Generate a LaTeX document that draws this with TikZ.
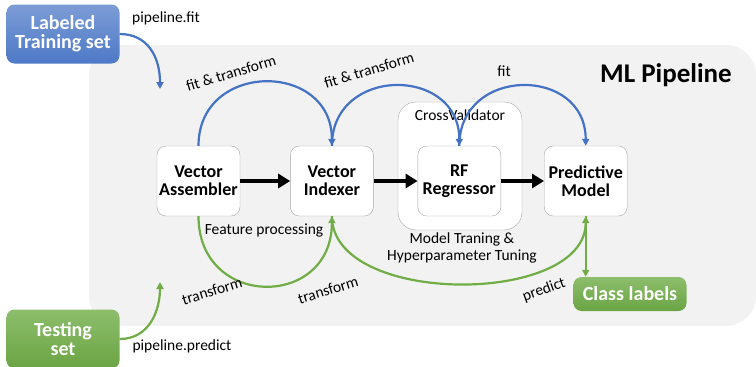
\documentclass[tikz,border=0pt]{standalone}
\usepackage{fontspec}
\setmainfont{Carlito}
\usetikzlibrary{positioning,arrows.meta}

\definecolor{pipegray}{HTML}{F2F2F2}
\definecolor{boxline}{HTML}{A6A6A6}
\definecolor{fitblue}{HTML}{4472C4}
\definecolor{predgreen}{HTML}{70AD47}

\begin{document}
\begin{tikzpicture}[x=1pt,y=-1pt,
    stage/.style={draw=boxline,fill=white,rounded corners=9pt,inner sep=0pt,
      minimum width=83pt,minimum height=70pt,align=center,
      font=\fontsize{18}{18}\selectfont\bfseries},
    lbl/.style={font=\fontsize{15.5}{17}\selectfont,inner sep=1pt},
    bluedata/.style={rounded corners=8pt,top color=fitblue!70!white,bottom color=fitblue!95!white,
      text=white,align=center,font=\fontsize{20}{19}\selectfont\bfseries},
    greendata/.style={rounded corners=8pt,top color=predgreen!80!white,bottom color=predgreen!95!black,
      text=white,align=center,font=\fontsize{20}{19}\selectfont\bfseries},
    fitarrow/.style={draw=fitblue,line width=2.2pt,-{Triangle[length=7pt,width=7pt]}},
    predarrow/.style={draw=predgreen,line width=2.2pt,-{Triangle[length=7pt,width=7pt]}},
    flow/.style={line width=4.5pt,-{Triangle[length=12pt,width=14pt]}}]
  \useasboundingbox (0,0) rectangle (756,367);

  % pipeline area
  \fill[pipegray,rounded corners=30pt] (89,45) rectangle (756,326);
  \node[font=\fontsize{27}{27}\selectfont\bfseries] (title) at (666,75) {ML Pipeline};

  \node[draw=boxline,fill=white,rounded corners=18pt,minimum width=124pt,minimum height=128pt] (cv) at (460,166) {};
  \node[lbl] (cvlbl) at (460,115) {CrossValidator};

  \node[stage] (asm) at (198.5,181) {Vector\\Assembler};
  \node[stage,right=50pt of asm] (idx) {Vector\\Indexer};
  \node[stage,right=44pt of idx] (rf) {RF\\Regressor};
  \node[stage,right=43pt of rf] (pm) {Predictive\\Model};

  \node[bluedata,minimum width=113pt,minimum height=59pt] (train) at (63,34) {Labeled\\Training set};
  \node[greendata,minimum width=113pt,minimum height=59pt] (test) at (63,339) {Testing\\set};
  \node[greendata,minimum width=113pt,minimum height=34pt] (cls) at (630,294) {Class labels};

  \coordinate (fitin) at (160,89);
  \coordinate (predin) at (160,282);

  \draw[flow] (asm) -- (idx);
  \draw[flow] (idx) -- (rf);
  \draw[flow] (rf) -- (pm);

  % fit path
  \draw[fitarrow] (train.east) .. controls +(28,0) and +(0,-32) .. (fitin);
  \draw[fitarrow] (asm.north) .. controls +(0,-85) and +(0,-85) .. (idx.north);
  \draw[fitarrow] (idx.north) .. controls +(0,-80) and +(0,-80) .. (rf.north);
  \draw[fitarrow] (rf.north) .. controls +(0,-80) and +(0,-80) .. (pm.north);

  % predict path
  \draw[predarrow] (test.east) .. controls +(30,0) and +(0,28) .. (predin);
  \draw[predarrow] (asm.south) .. controls +(0,93) and +(0,93) .. (idx.south);
  \draw[predarrow] (idx.south) .. controls +(0,90) and +(0,90) .. (pm.south);
  \draw[predarrow] (pm.south) -- (cls.north -| pm.south);

  \node[lbl] (fitlbl) at (166,18) {pipeline.fit};
  \node[lbl] (predlbl) at (182,346) {pipeline.predict};
  \node[lbl,rotate=17] (ftA) at (231,73) {fit \& transform};
  \node[lbl,rotate=17] (ftB) at (369,70) {fit \& transform};
  \node[lbl] (ftC) at (504,71) {fit};
  \node[lbl] (feat) at (264,230) {Feature processing};
  \node[lbl,align=center] (tune) at (462,248) {Model Traning \&\\Hyperparameter Tuning};
  \node[lbl,rotate=17] (trA) at (212,291) {transform};
  \node[lbl,rotate=17] (trB) at (328,290) {transform};
  \node[lbl,rotate=20] (prd) at (544,290) {predict};
\end{tikzpicture}
\end{document}
